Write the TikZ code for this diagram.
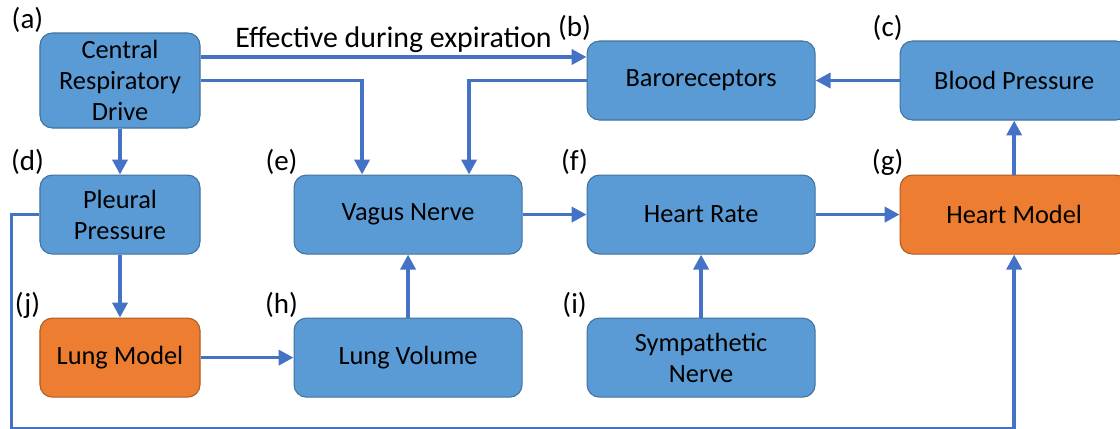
\documentclass[tikz,border=0pt]{standalone}
\usepackage{fontspec}
\setmainfont{Carlito}
\usetikzlibrary{arrows.meta,positioning}
\definecolor{boxblue}{HTML}{5B9BD5}
\definecolor{boxedge}{HTML}{41719C}
\definecolor{modelorange}{HTML}{ED7D31}
\definecolor{modeledge}{HTML}{AE5A21}
\definecolor{linkblue}{HTML}{4472C4}

\begin{document}
\begin{tikzpicture}[node distance=1.28cm,
    block/.style={rectangle,rounded corners=7pt,draw=boxedge,line width=0.6pt,fill=boxblue,align=center,minimum width=4.56cm,minimum height=1.58cm,font=\fontsize{15}{17.6}\selectfont},
    narrow/.style={block,minimum width=3.2cm},
    model/.style={fill=modelorange,draw=modeledge},
    tag/.style={inner sep=0pt,font=\fontsize{16.5}{19}\selectfont},
    arrow/.style={-{Triangle[length=8.5pt,width=8.5pt]},line width=2.1pt,draw=linkblue}]
    \useasboundingbox (-2.4,1.61) rectangle (20.0,-6.95);
    % top row
    \node[narrow,minimum height=1.9cm] (crd) {Central\\Respiratory\\Drive};
    % middle row
    \node[narrow,below=0.92cm of crd] (pleural) {Pleural\\Pressure};
    \node[block,right=1.86cm of pleural] (vagus) {Vagus Nerve};
    \node[block,right=of vagus] (heartrate) {Heart Rate};
    \node[block,model,right=1.68cm of heartrate] (heartmodel) {Heart Model};
    \node[block,above=1.08cm of heartrate] (baro) {Baroreceptors};
    \node[block,above=1.08cm of heartmodel] (bp) {Blood Pressure};
    % bottom row
    \node[narrow,model,below=1.26cm of pleural] (lungmodel) {Lung Model};
    \node[block,right=1.86cm of lungmodel] (lungvol) {Lung Volume};
    \node[block,right=of lungvol] (symp) {Sympathetic\\Nerve};
    % panel letters
    \foreach \n/\t in {crd/a,baro/b,bp/c,pleural/d,vagus/e,heartrate/f,heartmodel/g,lungvol/h,symp/i,lungmodel/j}
        \node[tag] (tag\t) at ([shift={(-0.24,0.25)}]\n.north west) {(\t)};
    % connectors
    \coordinate (expl) at ([yshift=0.47cm]crd.east);
    \draw[arrow] (expl) -- (expl -| baro.west) node[midway,above,inner sep=1.5pt,font=\fontsize{17}{20}\selectfont] (explabel) {Effective during expiration};
    \draw[arrow] (crd.east) -| ([xshift=-0.92cm]vagus.north);
    \draw[arrow] (baro.west) -| ([xshift=1.22cm]vagus.north);
    \draw[arrow] (bp) -- (baro);
    \draw[arrow] (crd) -- (pleural);
    \draw[arrow] (pleural) -- (lungmodel);
    \draw[arrow] (lungmodel) -- (lungvol);
    \draw[arrow] (lungvol) -- (vagus);
    \draw[arrow] (vagus) -- (heartrate);
    \draw[arrow] (symp) -- (heartrate);
    \draw[arrow] (heartrate) -- (heartmodel);
    \draw[arrow] (heartmodel) -- (bp);
    \coordinate (loopbot) at ([yshift=-3.48cm]heartmodel.south);
    \draw[arrow] (pleural.west) -- ++(-0.56,0) |- (loopbot) -- (heartmodel.south);
\end{tikzpicture}
\end{document}
